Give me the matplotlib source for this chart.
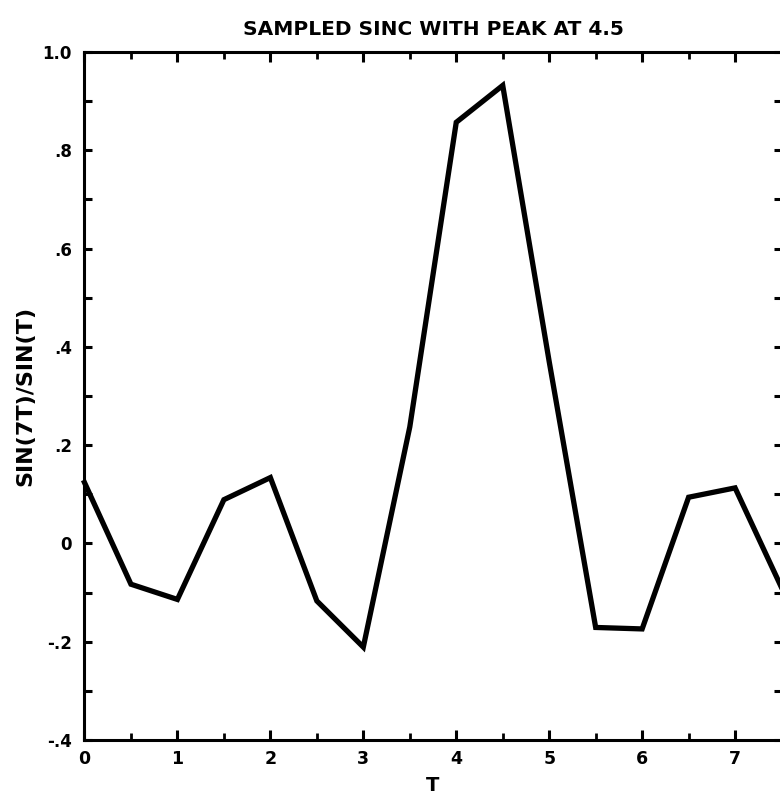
import numpy as np
import matplotlib
matplotlib.use("Agg")
import matplotlib.pyplot as plt
from matplotlib.ticker import MultipleLocator

t = [0.0, 0.5, 1.0, 1.5, 2.0, 2.5, 3.0, 3.5, 4.0, 4.5, 5.0, 5.5, 6.0, 6.5, 7.0, 7.5]
values = [0.124, -0.083, -0.114, 0.089, 0.134, -0.117, -0.211, 0.237, 0.857, 0.932,
          0.37, -0.171, -0.174, 0.094, 0.113, -0.09]
xticks = [0, 1, 2, 3, 4, 5, 6, 7]
xtick_labels = ["0", "1", "2", "3", "4", "5", "6", "7"]
yticks = [-0.4, -0.2, 0.0, 0.2, 0.4, 0.6, 0.8, 1.0]
ytick_labels = ["-.4", "-.2", "0", ".2", ".4", ".6", ".8", "1.0"]

plt.rcParams['font.family'] = ['DejaVu Sans']
fig = plt.figure(figsize=(7.8, 7.98), dpi=100)
ax = fig.add_axes([0.1083, 0.0727, 0.8937, 0.8621])

ax.plot(t, values, color="black", lw=3.8, solid_joinstyle="miter", clip_on=False)
ax.set_xlim(0, 7.5)
ax.set_ylim(-0.4, 1.0)

for s in ["left", "bottom", "top"]:
    ax.spines[s].set_linewidth(2.2)
ax.spines["right"].set_linewidth(0.8)
ax.spines["right"].set_linestyle((0, (2, 2)))
ax.spines["right"].set_color("#888888")

ax.set_xticks(xticks)
ax.set_xticklabels(xtick_labels, fontsize=12.5, fontweight="bold")
ax.set_yticks(yticks)
ax.set_yticklabels(ytick_labels, fontsize=12, fontweight="bold")
ax.xaxis.set_minor_locator(MultipleLocator(0.5))
ax.yaxis.set_minor_locator(MultipleLocator(0.1))

ax.tick_params(axis="x", which="major", direction="in", length=7, width=2.2,
               top=True, bottom=True, pad=7)
ax.tick_params(axis="x", which="minor", direction="in", length=5, width=2.0,
               top=True, bottom=True)
ax.tick_params(axis="y", which="major", direction="in", length=6, width=2.2,
               left=True, right=True, pad=9)
ax.tick_params(axis="y", which="minor", direction="in", length=6, width=2.2,
               left=True, right=True)

ax.set_title("SAMPLED SINC WITH PEAK AT 4.5", fontsize=14.5, fontweight="bold", pad=12)
ax.set_xlabel("T", fontsize=14, fontweight="bold", labelpad=6)
ax.set_ylabel("SIN(7T)/SIN(T)", fontsize=16, fontweight="bold", labelpad=5)

fig.savefig("out.png", dpi=100)
